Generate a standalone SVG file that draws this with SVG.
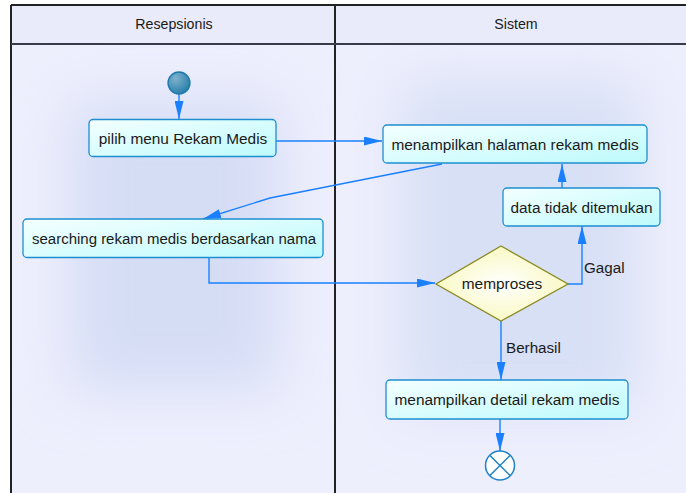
<svg xmlns="http://www.w3.org/2000/svg" width="686" height="493" viewBox="0 0 686 493">
  <style>
    text { font-family: "Liberation Sans", Arial, sans-serif; fill: #1a1a1a; }
    .hdr { font-size: 14.2px; text-anchor: middle; }
    .lbl { font-size: 15.4px; text-anchor: middle; }
    .act { fill: url(#actFill); stroke: #1e8ed0; stroke-width: 1.3; }
    .flow { fill: none; stroke: #1a80ff; stroke-width: 1.4; }
    .lane { stroke: #222; stroke-width: 2; }
  </style>
  <defs>
    <linearGradient id="actFill" x1="0" y1="0" x2="1" y2="1">
      <stop offset="0" stop-color="#f4ffff"/>
      <stop offset="1" stop-color="#bdfafc"/>
    </linearGradient>
    <radialGradient id="decFill" cx="0.5" cy="0.5" r="0.6">
      <stop offset="0" stop-color="#ffffff"/>
      <stop offset="1" stop-color="#f8f8b8"/>
    </radialGradient>
    <radialGradient id="startFill" cx="0.35" cy="0.3" r="0.8">
      <stop offset="0" stop-color="#7fb2cc"/>
      <stop offset="1" stop-color="#1f7aa6"/>
    </radialGradient>
    <filter id="soft" x="-30%" y="-30%" width="160%" height="160%">
      <feGaussianBlur stdDeviation="28"/>
    </filter>
    <!-- long, narrow filled arrowhead -->
    <marker id="arrow" viewBox="0 0 18 9" refX="18" refY="4.5" markerWidth="18" markerHeight="9" markerUnits="userSpaceOnUse" orient="auto">
      <path d="M0,0 L18,4.5 L0,9 Z" fill="#1a80ff"/>
    </marker>
  </defs>

  <!-- swimlane background -->
  <rect x="0" y="0" width="686" height="493" fill="#ffffff"/>
  <rect x="11" y="5" width="680" height="493" fill="#eeeffd"/>
  <rect x="70" y="100" width="210" height="290" fill="#d5ddf5" filter="url(#soft)"/>
  <rect x="400" y="80" width="240" height="330" fill="#d8e0f6" filter="url(#soft)"/>
  <rect x="11" y="5" width="680" height="39" fill="#e9ebfb"/>
  <g id="lanes">
    <line class="lane" x1="11" y1="5" x2="686" y2="5"/>
    <line class="lane" x1="11" y1="5" x2="11" y2="493"/>
    <line class="lane" x1="335" y1="5" x2="335" y2="493"/>
    <line x1="11" y1="44" x2="686" y2="44" stroke="#3a3a48" stroke-width="2"/>
    <text class="hdr" x="174" y="29">Resepsionis</text>
    <text class="hdr" x="516" y="29">Sistem</text>
  </g>

  <!-- connectors -->
  <g id="connectors">
    <line class="flow" x1="179" y1="94" x2="179" y2="119" marker-end="url(#arrow)"/>
    <line class="flow" x1="276" y1="141" x2="382" y2="141" marker-end="url(#arrow)"/>
    <polyline class="flow" points="442,164 270,198 203,219" marker-end="url(#arrow)"/>
    <polyline class="flow" points="209,258 209,283 435,283" marker-end="url(#arrow)"/>
    <polyline class="flow" points="568,284 582,284 582,226" marker-end="url(#arrow)"/>
    <line class="flow" x1="562" y1="188" x2="562" y2="164" marker-end="url(#arrow)"/>
    <line class="flow" x1="501" y1="321" x2="501" y2="380" marker-end="url(#arrow)"/>
    <line class="flow" x1="500" y1="419" x2="500" y2="451" marker-end="url(#arrow)"/>
    <text x="584" y="273" font-size="15.2px">Gagal</text>
    <text x="506" y="353" font-size="15.2px">Berhasil</text>
  </g>

  <!-- nodes -->
  <g id="start">
    <circle cx="179" cy="83" r="11" fill="url(#startFill)" stroke="#1f78b0" stroke-width="1.3"/>
  </g>
  <g id="pilih-menu">
    <rect class="act" x="89" y="119.5" width="187" height="37" rx="4"/>
    <text class="lbl" x="183" y="144">pilih menu Rekam Medis</text>
  </g>
  <g id="halaman-rekam-medis">
    <rect class="act" x="383" y="125" width="264" height="38" rx="4"/>
    <text class="lbl" x="515" y="149.5">menampilkan halaman rekam medis</text>
  </g>
  <g id="data-tidak-ditemukan">
    <rect class="act" x="503" y="188" width="157" height="38" rx="4"/>
    <text class="lbl" x="581.5" y="212.5">data tidak ditemukan</text>
  </g>
  <g id="searching">
    <rect class="act" x="23" y="219" width="300" height="38.5" rx="4"/>
    <text class="lbl" x="174" y="244" textLength="284" lengthAdjust="spacingAndGlyphs">searching rekam medis berdasarkan nama</text>
  </g>
  <g id="memproses">
    <polygon points="501,246 568,284 501,321 436,284" fill="url(#decFill)" stroke="#8a8a20" stroke-width="1.3"/>
    <text class="lbl" x="502" y="289">memproses</text>
  </g>
  <g id="detail-rekam-medis">
    <rect class="act" x="386" y="380" width="242" height="39" rx="4"/>
    <text class="lbl" x="507" y="404.5">menampilkan detail rekam medis</text>
  </g>
  <g id="end">
    <circle cx="500" cy="465.5" r="14.5" fill="#ffffff" stroke="#1f82c8" stroke-width="1.5"/>
    <line x1="489.7" y1="455.2" x2="510.3" y2="475.8" stroke="#1f82c8" stroke-width="1.5"/>
    <line x1="510.3" y1="455.2" x2="489.7" y2="475.8" stroke="#1f82c8" stroke-width="1.5"/>
  </g>
</svg>
